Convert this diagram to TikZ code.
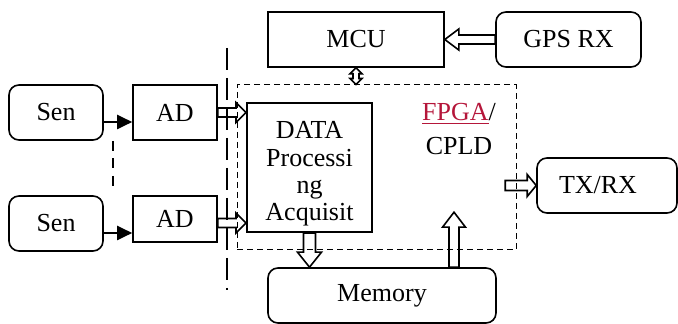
\documentclass[tikz,border=0pt]{standalone}
\usepackage{fontspec}
\setmainfont{Liberation Serif}
\usepackage{tikz}
\usepackage{xcolor}
\usetikzlibrary{arrows.meta,calc}
\definecolor{fpgared}{RGB}{181,22,58}

\begin{document}
\begin{tikzpicture}[x=0.5pt, y=-0.5pt,
    every node/.style={font=\fontsize{13}{13.7}\selectfont},
    box/.style={draw, line width=0.8pt, inner sep=0pt},
    rbox/.style={box, rounded corners=5pt},
    sig/.style={line width=1pt, -{Triangle[length=7.5pt,width=7pt]}},
    hollow/.style n args={3}{line width=0.8pt, to path={
        ($(\tikztostart)!#1!90:(\tikztotarget)$)
        -- ($(\tikztotarget)!#3!(\tikztostart)!#1!-90:(\tikztostart)$)
        -- ($(\tikztotarget)!#3!(\tikztostart)!#2!-90:(\tikztostart)$)
        -- (\tikztotarget)
        -- ($(\tikztotarget)!#3!(\tikztostart)!#2!90:(\tikztostart)$)
        -- ($(\tikztotarget)!#3!(\tikztostart)!#1!90:(\tikztostart)$)
        -- ($(\tikztostart)!#1!-90:(\tikztotarget)$) -- cycle}},
    twoway/.style={line width=0.8pt, to path={
        (\tikztostart)
        -- ($(\tikztostart)!3pt!(\tikztotarget)!3pt!90:(\tikztotarget)$)
        -- ($(\tikztostart)!3pt!(\tikztotarget)!1.5pt!90:(\tikztotarget)$)
        -- ($(\tikztotarget)!3pt!(\tikztostart)!1.5pt!-90:(\tikztostart)$)
        -- ($(\tikztotarget)!3pt!(\tikztostart)!3pt!-90:(\tikztostart)$)
        -- (\tikztotarget)
        -- ($(\tikztotarget)!3pt!(\tikztostart)!3pt!90:(\tikztostart)$)
        -- ($(\tikztotarget)!3pt!(\tikztostart)!1.5pt!90:(\tikztostart)$)
        -- ($(\tikztostart)!3pt!(\tikztotarget)!1.5pt!-90:(\tikztotarget)$)
        -- ($(\tikztostart)!3pt!(\tikztotarget)!3pt!-90:(\tikztotarget)$) -- cycle}}]
    \useasboundingbox (0,0) rectangle (678,324);

    % Sensors and converters
    \node[rbox, minimum width=47pt, minimum height=27.5pt] (sen1) at (56,112.5) {Sen};
    \node[rbox, minimum width=47pt, minimum height=27.5pt] (sen2) at (56,223.5) {Sen};
    \node[box, minimum width=42pt, minimum height=27.5pt] (ad1) at (175,112.5) {AD};
    \node[box, minimum width=42pt, minimum height=23pt] (ad2) at (175,219) {AD};

    % FPGA / CPLD area
    \node[draw, dash pattern=on 3pt off 2pt, line width=0.5pt, inner sep=0pt,
          minimum width=139.5pt, minimum height=82.5pt] (fpga) at (376.5,167.5) {};
    \node[font=\fontsize{13}{17}\selectfont, align=center] (fpgalbl) at (459,129)
        {\textcolor{fpgared}{\underline{FPGA}}/\\CPLD};

    % Data processing block
    \node[box, line width=1pt, minimum width=62.5pt, minimum height=64.5pt] (data) at (309.5,167.5) {};
    \node[align=center] (datalbl) at ([yshift=-3.25pt]data.center) {DATA\\Processi\\ng\\Acquisit};

    % MCU, GPS, memory, radio
    \node[box, minimum width=88pt, minimum height=27.5pt] (mcu) at (356,39.5) {MCU};
    \node[rbox, minimum width=72.5pt, minimum height=27.5pt] (gps) at (568.5,39.5) {GPS RX};
    \node[rbox, minimum width=114pt, minimum height=27.5pt] (mem) at (382,295.5) {Memory};
    \node[rbox, minimum width=70pt, minimum height=27.5pt] (txrx) at (607,185.5) {TX/RX\kern9pt};

    % Sensor signals
    \coordinate (s1) at ([yshift=-4.75pt]sen1.east);
    \coordinate (s2) at ([yshift=-4.75pt]sen2.east);
    \draw[sig] (s1) -- (s1 -| ad1.west);
    \draw[sig] (s2) -- (s2 -| ad2.west);

    % Buses
    \coordinate (d1) at (ad1.east -| data.west);
    \coordinate (a2) at ([yshift=-2pt]ad2.east);
    \coordinate (d2) at (a2 -| data.west);
    \draw[hollow={2.25pt}{5pt}{5pt}] (ad1.east) to (d1);
    \draw[hollow={2.25pt}{5pt}{5pt}] (a2) to (d2);
    \draw[hollow={2.25pt}{5.25pt}{7pt}] (gps.west) to (mcu.east);
    \coordinate (f1) at (mcu.south |- fpga.north);
    \draw[twoway] (mcu.south) to (f1);
    \coordinate (m1) at (data.south |- mem.north);
    \draw[hollow={3pt}{6pt}{7.5pt}] (data.south) to (m1);
    \coordinate (m2) at ([xshift=36pt]mem.north);
    \coordinate (f2) at ([yshift=27.5pt]m2);
    \draw[hollow={2.5pt}{5.75pt}{7.5pt}] (m2) to (f2);
    \coordinate (f3) at ([xshift=-15.5pt]txrx.west);
    \draw[hollow={2.5pt}{5.5pt}{4.5pt}] (f3) to (txrx.west);

    % Separators
    \draw[line width=1.1pt, dash pattern=on 5pt off 3.75pt] (113,141) -- (113,188);
    \draw[line width=1.1pt, dash pattern=on 11pt off 4pt] (227,48) -- (227,290);
\end{tikzpicture}
\end{document}
